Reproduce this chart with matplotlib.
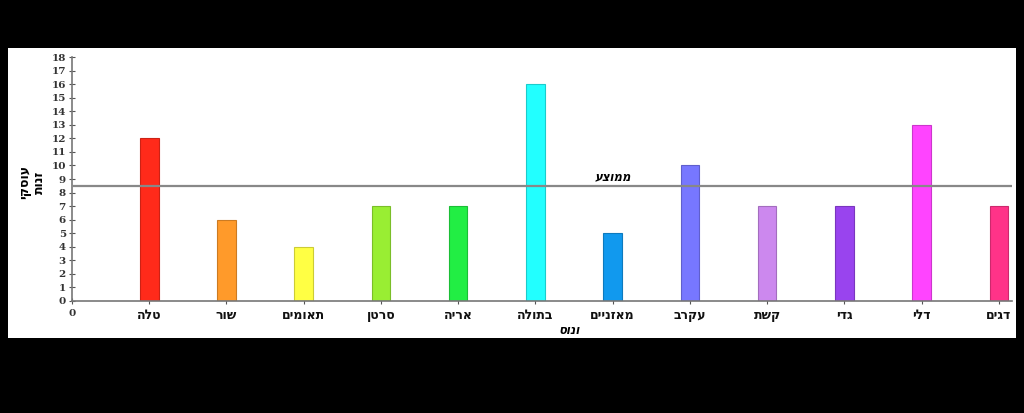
import matplotlib
matplotlib.use("Agg")
from matplotlib import pyplot as plt
from matplotlib import colors as mcolors

# zodiac signs (Hebrew) and counts
signs = ['טלה', 'שור', 'תאומים', 'סרטן', 'אריה', 'בתולה',
         'מאזניים', 'עקרב', 'קשת', 'גדי', 'דלי', 'דגים']
counts = [12, 6, 4, 7, 7, 16, 5, 10, 7, 7, 13, 7]
mean_value = 8.5
bar_colors = ['#ff2a1a', '#ff9a2a', '#ffff44', '#99ee33', '#22ee44', '#22ffff',
              '#1199ee', '#7777ff', '#cc88ee', '#9944ee', '#ff44ff', '#ff3388']
y_ticks = list(range(0, 19))


def rtl(s):
  # matplotlib has no bidi support, flip each line for display
  return '\n'.join(line[::-1] for line in s.split('\n'))


def darker(c, f=0.8):
  r, g, b = mcolors.to_rgb(c)
  return (r * f, g * f, b * f)


fig = plt.figure(figsize=(10.24, 4.13), dpi=100)
fig.patch.set_facecolor('black')

# white panel behind the chart
bg = fig.add_axes([8/1024, 75/413, 1008/1024, 290/413])
bg.set_facecolor('white')
bg.set_xticks([])
bg.set_yticks([])
for s in bg.spines.values():
  s.set_visible(False)
bg.set_zorder(0)

ax = fig.add_axes([72/1024, 112/413, 940/1024, 244/413])
ax.set_facecolor('none')
ax.set_zorder(1)

xs = list(range(1, len(signs) + 1))
ax.bar(xs, counts, width=0.24, color=bar_colors,
       edgecolor=[darker(c) for c in bar_colors], linewidth=0.8, zorder=2)

# average line
ax.axhline(mean_value, color='#888888', linewidth=1.6, zorder=3)
ax.text(7.0, mean_value + 0.2, rtl('ממוצע'), ha='center', va='bottom',
        fontsize=8.5, fontstyle='italic', fontweight='bold', family='DejaVu Sans')

ax.set_xlim(0, 12.17)
ax.set_ylim(0, 18)
ax.set_yticks(y_ticks)
ax.set_yticklabels([str(t) for t in y_ticks], family='DejaVu Serif',
                   fontsize=7.5, fontweight='bold', color='#333333')
ax.set_xticks([0] + xs)
ax.set_xticklabels(['0'] + [rtl(s) for s in signs], fontsize=9,
                   fontweight='bold', family='DejaVu Sans', color='#111111')
ax.get_xticklabels()[0].set_family('DejaVu Serif')
ax.get_xticklabels()[0].set_fontsize(7.5)
ax.get_xticklabels()[0].set_color('#333333')
ax.tick_params(axis='both', direction='inout', length=5, color='#555555', pad=2)
ax.tick_params(axis='x', pad=3)

for side in ['top', 'right']:
  ax.spines[side].set_visible(False)
for side in ['left', 'bottom']:
  ax.spines[side].set_color('#777777')
  ax.spines[side].set_linewidth(1.2)

# axis titles
fig.text(569/1024, 1 - 331/413, rtl('ונוס'), ha='center', va='center',
         fontsize=8.5, fontstyle='italic', fontweight='bold', zorder=5)
fig.text(32/1024, 1 - 182/413, rtl('עוסקי\nזנות'), ha='center', va='center',
         rotation=90, fontsize=9, fontweight='bold', linespacing=1.1, zorder=5)

fig.savefig('out.png', dpi=100, facecolor=fig.get_facecolor())
